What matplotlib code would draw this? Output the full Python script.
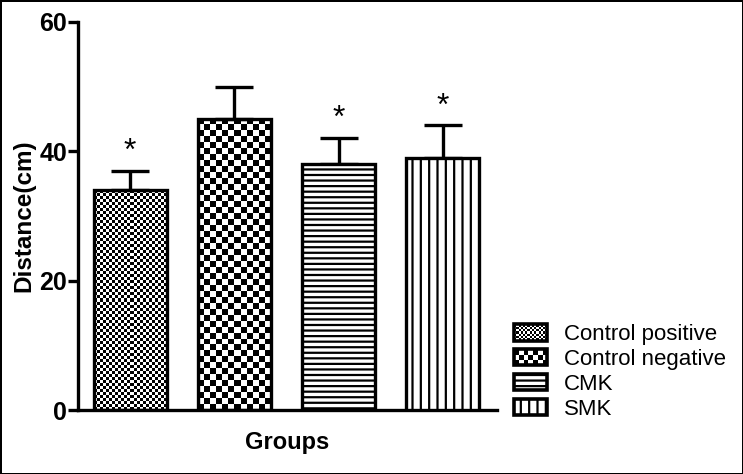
import numpy as np
import matplotlib
matplotlib.use('Agg')
import matplotlib.pyplot as plt
from matplotlib.patches import Rectangle, Patch
from matplotlib.legend_handler import HandlerBase

plt.rcParams['font.family'] = ['Liberation Sans', 'DejaVu Sans']
plt.rcParams['hatch.linewidth'] = 1.6

# data
groups = ['Control positive', 'Control negative', 'CMK', 'SMK']
means = [34, 45, 38, 39]
errors = [3, 5, 4, 5]
significant = [True, False, True, True]
fills = ['checker_fine', 'checker_coarse', '---', '||']


# legend key made of small squares (checkerboard)
class CheckerHandler(HandlerBase):
    def __init__(self, cell):
        super().__init__()
        self.cell = cell

    def create_artists(self, legend, orig_handle, xdescent, ydescent,
                       width, height, fontsize, trans):
        arts = []
        nx = max(1, int(round(width / self.cell)))
        ny = max(1, int(round(height / self.cell)))
        cw = width / nx
        ch = height / ny
        for i in range(nx):
            for j in range(ny):
                if (i + j) % 2 == 0:
                    arts.append(Rectangle((-xdescent + i * cw, -ydescent + j * ch), cw, ch,
                                          facecolor='black', edgecolor='none', transform=trans))
        arts.append(Rectangle((-xdescent, -ydescent), width, height, facecolor='none',
                              edgecolor='black', linewidth=2.6, transform=trans))
        return arts


fig = plt.figure(figsize=(7.43, 4.74), dpi=100)
fig.patch.set_edgecolor('black')
fig.patch.set_linewidth(2)
ax = fig.add_axes([0.105, 0.135, 0.564, 0.819])

x = np.arange(len(groups))
bars = ax.bar(x, means, width=0.7, facecolor='none', edgecolor='black',
              linewidth=2.4, zorder=3)
ax.errorbar(x, means, yerr=[np.zeros(len(errors)), errors], fmt='none',
            ecolor='black', elinewidth=2.4, capsize=14, capthick=2.4, zorder=2)

ax.set_xlim(-0.5, 3.52)
ax.set_ylim(0, 60)

# fills: checkerboards via clipped images, lines via hatches
cells = {'checker_fine': 3.0, 'checker_coarse': 6.0}
for bar, f in zip(bars, fills):
    x0, y0 = bar.get_xy()
    w, h = bar.get_width(), bar.get_height()
    if f in cells:
        p0 = ax.transData.transform((x0, y0))
        p1 = ax.transData.transform((x0 + w, y0 + h))
        nx = int(round((p1[0] - p0[0]) / cells[f]))
        ny = int(round((p1[1] - p0[1]) / cells[f]))
        img = np.add.outer(np.arange(ny), np.arange(nx)) % 2
        ax.imshow(img, cmap='gray', extent=[x0, x0 + w, y0, y0 + h], origin='lower',
                  aspect='auto', interpolation='nearest', zorder=1)
    else:
        bar.set_facecolor('white')
        bar.set_hatch(f)
ax.set_xlim(-0.5, 3.52)
ax.set_ylim(0, 60)

for xi, m, e, s in zip(x, means, errors, significant):
    if s:
        ax.text(xi, m + e + 0.6, '*', ha='center', va='bottom', fontsize=23)

ax.spines['top'].set_visible(False)
ax.spines['right'].set_visible(False)
ax.spines['left'].set_linewidth(2.4)
ax.spines['bottom'].set_linewidth(2.4)
ax.set_xticks([])
ax.set_yticks([0, 20, 40, 60])
ax.tick_params(axis='y', length=7, width=2.4, labelsize=18, pad=1)
for lab in ax.get_yticklabels():
    lab.set_fontweight('bold')
ax.set_ylabel('Distance(cm)', fontsize=17.5, fontweight='bold', labelpad=3)
ax.set_xlabel('Groups', fontsize=17, fontweight='bold', labelpad=15)

handles = [Patch(label=groups[0]), Patch(label=groups[1]),
           Patch(facecolor='white', edgecolor='black', hatch='---', linewidth=2.6, label=groups[2]),
           Patch(facecolor='white', edgecolor='black', hatch='||', linewidth=2.6, label=groups[3])]
ax.legend(handles=handles, loc='upper left', bbox_to_anchor=(0.683, 0.33),
          bbox_transform=fig.transFigure, frameon=False, fontsize=16,
          handlelength=1.5, handleheight=0.75, handletextpad=0.75, labelspacing=0.17,
          borderaxespad=0, borderpad=0.3,
          handler_map={handles[0]: CheckerHandler(1.6), handles[1]: CheckerHandler(3.5)})

fig.savefig('out.png', dpi=100)
